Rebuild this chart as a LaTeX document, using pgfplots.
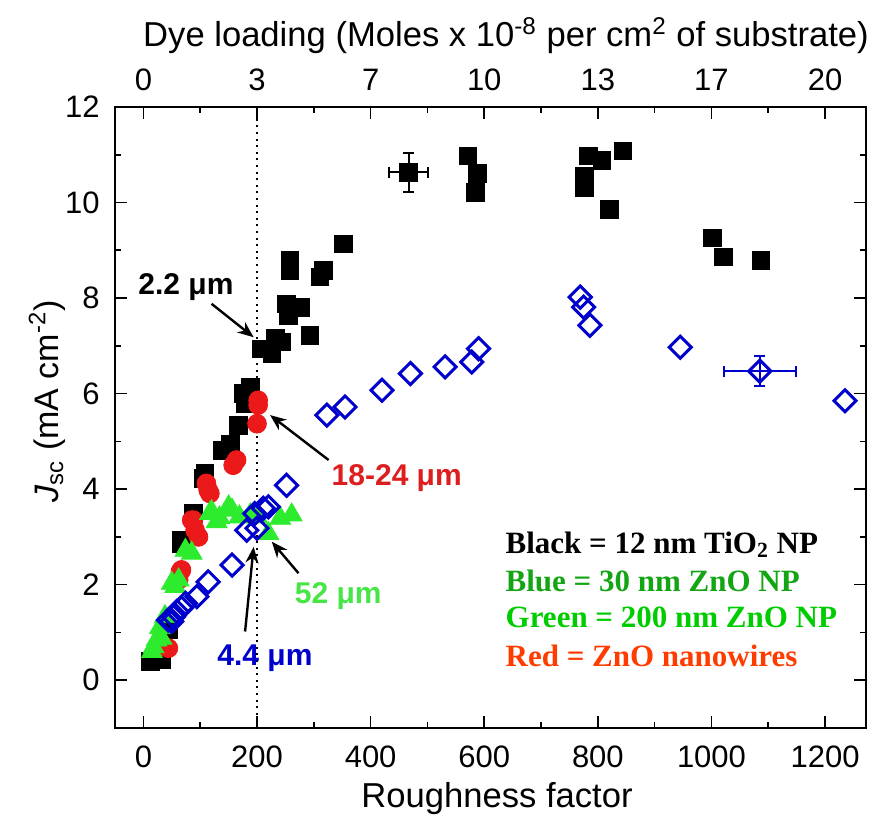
\documentclass[border=0pt]{standalone}
\usepackage{pgfplots}
\pgfplotsset{compat=1.18}
\usepackage{fontspec}
\setmainfont{Liberation Sans}
\newfontfamily\tnr{Liberation Serif}
\usetikzlibrary{arrows.meta}
\definecolor{myblue}{RGB}{0,0,205}
\definecolor{mygreen}{RGB}{45,235,45}
\definecolor{myred}{RGB}{235,25,25}
\definecolor{lgA}{RGB}{20,165,20}
\definecolor{lgB}{RGB}{0,205,0}
\definecolor{lgC}{RGB}{255,60,0}
\definecolor{anRed}{RGB}{220,30,30}
\definecolor{anGreen}{RGB}{70,230,70}
\begin{document}
\begin{tikzpicture}
\useasboundingbox (-57.5pt,-44.5pt) rectangle (379pt,364pt);
\begin{axis}[
  width=375.5pt, height=310.5pt, scale only axis,
  xmin=-50, xmax=1272, ymin=-1, ymax=12,
  xtick={0,200,...,1200}, ytick={0,2,...,12},
  minor x tick num=1, minor y tick num=1,
  tick align=inside, major tick length=6pt, minor tick length=3pt,
  every tick/.style={black, line width=0.8pt},
  axis line style={line width=1pt},
  font=\fontsize{15.5}{18}\selectfont,
  /pgf/number format/assume math mode=true,
  /pgf/number format/1000 sep={},
  xticklabel style={anchor=north, inner sep=0pt, yshift=-8.5pt},
  yticklabel style={anchor=east, inner sep=0pt, xshift=-7.5pt},
  xlabel={Roughness factor},
  xlabel style={font=\fontsize{17.3}{20}\selectfont, at={(axis description cs:0.5087,-0.1288)}, anchor=base},
  ylabel={\textit{J}\textsubscript{sc} (mA cm\textsuperscript{-2})},
  ylabel style={font=\fontsize{17}{20}\selectfont, at={(axis description cs:-0.0759,0.5258)}, anchor=base},
  clip=false,
]
% dotted vertical line
\addplot[black, line width=0.7pt, dash pattern=on 1pt off 2.3pt] coordinates {(200,-1) (200,12)};
% black squares: 12 nm TiO2 NP
\addplot[only marks, mark=square*, mark size=4.4pt, black] table {
x y
12 0.39
32 0.43
44 1.05
67 2.86
67 2.93
88 3.49
108 4.33
106 4.22
138 4.81
153 4.95
167 5.34
176 6.00
179 5.79
188 6.14
208 6.94
226 6.84
232 7.15
244 7.08
252 7.88
255 7.64
258 8.58
258 8.79
276 7.81
293 7.22
311 8.44
317 8.58
352 9.13
571 10.98
588 10.61
584 10.21
776 10.56
776 10.32
783 10.98
807 10.88
820 9.85
844 11.08
1002 9.26
1021 8.86
1087 8.79
};
\addplot[only marks, mark=square*, mark size=4.4pt, black,
  error bars/.cd, x dir=both, y dir=both, x explicit, y explicit,
  error bar style={line width=1pt},
  error mark options={rotate=90, mark size=2.8pt, line width=1pt}]
  coordinates {(467,10.63) +- (34,0.41)};
% red circles: ZnO nanowires
\addplot[only marks, mark=*, mark size=4.7pt, draw=myred, fill=myred] table {
x y
38 0.70
44 0.67
62 2.10
65 2.27
67 2.31
85 3.35
88 3.35
91 3.14
97 3.00
111 4.12
114 3.98
117 3.91
158 4.50
164 4.61
200 5.37
202 5.76
202 5.86
};
% green triangles: 200 nm ZnO NP
\addplot[only marks, mark=triangle*, mark size=6pt, draw=mygreen, fill=mygreen] table {
x y
15 0.60
18 0.70
23 0.84
29 1.10
32 0.88
38 1.33
50 2.03
56 1.96
62 2.10
74 2.72
85 2.66
117 3.49
120 3.53
129 3.32
134 3.40
150 3.63
156 3.56
169 3.42
188 3.46
200 3.42
220 3.07
241 3.39
261 3.46
};
% blue diamonds: 30 nm ZnO NP
\addplot[only marks, mark=square, mark size=3.9pt, mark options={rotate=45, line width=1.5pt}, draw=myblue] table {
x y
44 1.26
50 1.23
53 1.33
59 1.44
67 1.51
74 1.61
94 1.75
114 2.06
156 2.41
182 3.14
200 3.18
196 3.49
211 3.60
220 3.63
252 4.08
323 5.55
355 5.72
420 6.07
470 6.42
531 6.56
578 6.66
590 6.94
769 8.02
775 7.81
786 7.43
945 6.97
1235 5.85
};
\addplot[only marks, mark=square, mark size=3.9pt, mark options={rotate=45, line width=1.5pt}, draw=myblue,
  error bars/.cd, x dir=both, y dir=both, x explicit, y explicit,
  error bar style={line width=1pt, myblue},
  error mark options={rotate=90, mark size=2.8pt, line width=1pt, myblue}]
  coordinates {(1085,6.47) +- (63,0.32)};
% annotations
\begin{scope}[font=\fontsize{15}{18}\selectfont\bfseries]
\node[black] at (axis cs:75,8.22) {2.2 μm};
\node[anRed] at (axis cs:446,4.23) {18-24 μm};
\node[anGreen] at (axis cs:343,1.76) {52 μm};
\node[myblue] at (axis cs:214,0.47) {4.4 μm};
\end{scope}
\begin{scope}[-{Stealth[length=8pt,width=6.5pt]}, line width=1.2pt, black]
\draw (axis cs:120,7.88) -- (axis cs:194,7.18);
\draw (axis cs:326,4.61) -- (axis cs:223,5.55);
\draw (axis cs:273,2.24) -- (axis cs:226,2.90);
\draw (axis cs:179,1.02) -- (axis cs:194,2.79);
\end{scope}
\begin{scope}[font=\fontsize{15.5}{18}\selectfont\tnr\bfseries, anchor=base west, inner sep=0pt]
\node[black] at (axis cs:637,2.66) {Black = 12 nm TiO\textsubscript{2} NP};
\node[lgA] at (axis cs:637,1.85) {Blue = 30 nm ZnO NP};
\node[lgB] at (axis cs:637,1.10) {Green = 200 nm ZnO NP};
\node[lgC] at (axis cs:637,0.28) {Red = ZnO nanowires};
\end{scope}
\end{axis}
\begin{axis}[
  width=375.5pt, height=310.5pt, scale only axis,
  xmin=-50, xmax=1272, ymin=-1, ymax=12,
  axis x line*=top, axis y line=none,
  xtick={0,200,...,1200}, xticklabels={0,3,7,10,13,17,20},
  minor x tick num=1,
  tick align=inside, major tick length=6pt, minor tick length=3pt,
  every tick/.style={black, line width=0.8pt},
  axis line style={line width=1pt},
  font=\fontsize{15.5}{18}\selectfont,
  /pgf/number format/assume math mode=true,
  xticklabel style={anchor=south, inner sep=0pt, yshift=8pt},
  xlabel={Dye loading (Moles x 10\textsuperscript{-8} per cm\textsuperscript{2} of substrate)},
  xlabel style={font=\fontsize{17.3}{20}\selectfont, at={(axis description cs:0.5206,1.0966)}, anchor=base},
]
\addplot[draw=none] coordinates {(0,0)};
\end{axis}
\end{tikzpicture}
\end{document}
